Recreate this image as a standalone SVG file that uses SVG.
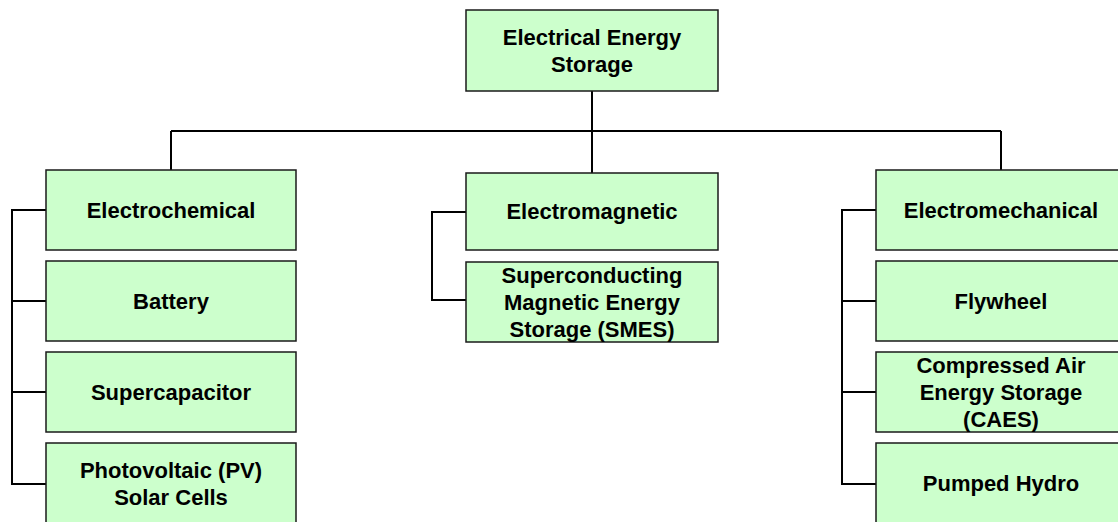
<svg xmlns="http://www.w3.org/2000/svg" width="1118" height="522" viewBox="0 0 1118 522">
<style>
.box{fill:#ccffcc;stroke:#1a1a1a;stroke-width:1.5}
.t{font-family:"Liberation Sans",Arial,sans-serif;font-weight:bold;font-size:22px;fill:#000;text-anchor:middle}
.c{fill:none;stroke:#000;stroke-width:2}
</style>
<rect width="1118" height="522" fill="#fff"/>
<g id="connectors">
<path class="c" d="M592 91V131M171 131H1001M171 131V170M592 131V173M1001 131V170"/>
<path class="c" d="M46 210H12V484H46M12 301H46M12 392H46"/>
<path class="c" d="M466 212H432V300H466"/>
<path class="c" d="M876 210H842V484H876M842 301H876M842 392H876"/>
</g>
<g id="root"><rect class="box" x="466" y="10" width="252" height="81"/><text class="t" x="592" y="45">Electrical Energy</text><text class="t" x="592" y="72">Storage</text></g>
<g id="electrochemical"><rect class="box" x="46" y="170" width="250" height="80"/><text class="t" x="171" y="218">Electrochemical</text></g>
<g id="battery"><rect class="box" x="46" y="261" width="250" height="80"/><text class="t" x="171" y="309">Battery</text></g>
<g id="supercapacitor"><rect class="box" x="46" y="352" width="250" height="80"/><text class="t" x="171" y="400">Supercapacitor</text></g>
<g id="pv"><rect class="box" x="46" y="443" width="250" height="82"/><text class="t" x="171" y="478">Photovoltaic (PV)</text><text class="t" x="171" y="505">Solar Cells</text></g>
<g id="electromagnetic"><rect class="box" x="466" y="173" width="252" height="77"/><text class="t" x="592" y="219">Electromagnetic</text></g>
<g id="smes"><rect class="box" x="466" y="262" width="252" height="80"/><text class="t" x="592" y="283">Superconducting</text><text class="t" x="592" y="310">Magnetic Energy</text><text class="t" x="592" y="337">Storage (SMES)</text></g>
<g id="electromechanical"><rect class="box" x="876" y="170" width="250" height="80"/><text class="t" x="1001" y="218">Electromechanical</text></g>
<g id="flywheel"><rect class="box" x="876" y="261" width="250" height="80"/><text class="t" x="1001" y="309">Flywheel</text></g>
<g id="caes"><rect class="box" x="876" y="352" width="250" height="80"/><text class="t" x="1001" y="373">Compressed Air</text><text class="t" x="1001" y="400">Energy Storage</text><text class="t" x="1001" y="427">(CAES)</text></g>
<g id="pumped"><rect class="box" x="876" y="443" width="250" height="82"/><text class="t" x="1001" y="491">Pumped Hydro</text></g>
</svg>
